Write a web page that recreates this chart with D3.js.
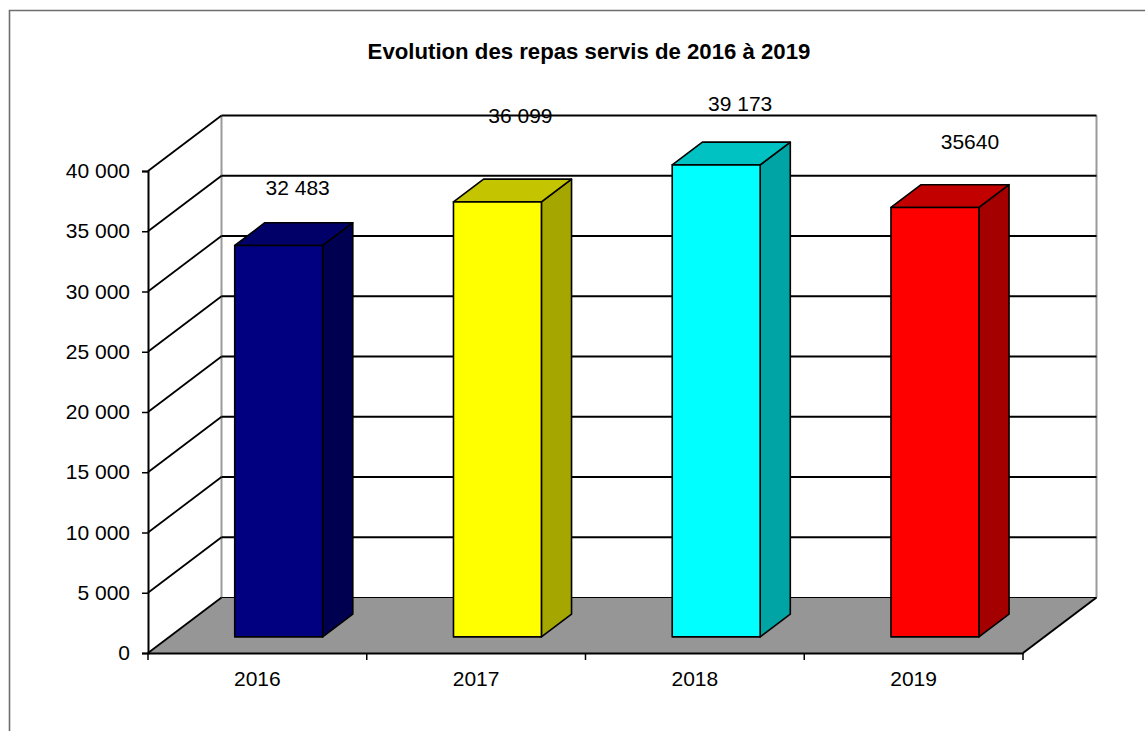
<!DOCTYPE html>
<html lang="fr">
<head>
<meta charset="utf-8">
<script src="https://cdn.jsdelivr.net/npm/d3@7"></script>
<style>
  html, body { margin: 0; padding: 0; background: #fff; }
  svg { display: block; font-family: "Liberation Sans", Arial, sans-serif; }
</style>
</head>
<body>
<svg id="chart" width="1145" height="731"></svg>
<script>
// Repas servis par année
const years = ["2016", "2017", "2018", "2019"];
const meals = [32483, 36099, 39173, 35640];
const mealLabels = ["32 483", "36 099", "39 173", "35640"];
const yTicks = [0, 5000, 10000, 15000, 20000, 25000, 30000, 35000, 40000];
const title = "Evolution des repas servis de 2016 à 2019";

// Colours per bar: front, top, side faces
const faceColors = [
  { front: "#000080", top: "#000068", side: "#000050" },
  { front: "#ffff00", top: "#c4c400", side: "#a6a600" },
  { front: "#00ffff", top: "#00c2c2", side: "#00a4a4" },
  { front: "#ff0000", top: "#c20000", side: "#a40000" }
];
// Hand-placed nudges for the value labels, relative to each bar's front top centre
const labelNudge = [[19, -58], [23, -86], [24, -61], [35, -66]];

const svg = d3.select("#chart");

// Plot box (front plane) and perspective depth vector
const left = 148, right = 1023, floorY = 653, topY = 171;
const depth = { dx: 73.5, dy: -55.5 };
const zFront = 0.29, zBack = 0.70;
const proj = (x, y, z) => [x + z * depth.dx, y + z * depth.dy];

const y = d3.scaleLinear().domain([0, 40000]).range([floorY, topY]);
const x = d3.scaleBand().domain(years).range([left, right])
  .paddingInner(0.598).paddingOuter(0.299);

const fr = d3.formatLocale({ decimal: ",", thousands: " ", grouping: [3], currency: ["", " €"] });
const fmt = fr.format(",d");

// Outer frame
svg.append("path")
  .attr("d", "M9.5,731 L9.5,10.5 L1145,10.5")
  .attr("fill", "none").attr("stroke", "#6e6e6e").attr("stroke-width", 1.6);

// Floor
const floorPts = [[left, floorY], [right, floorY], proj(right, floorY, 1), proj(left, floorY, 1)];
svg.append("polygon")
  .attr("points", floorPts.map(p => p.join(",")).join(" "))
  .attr("fill", "#969696");

// Back wall side edges
const walls = svg.append("g");
[left, right].forEach(xx => {
  const a = proj(xx, y(0), 1), b = proj(xx, y(40000), 1);
  walls.append("line")
    .attr("x1", a[0]).attr("y1", a[1]).attr("x2", b[0]).attr("y2", b[1])
    .attr("stroke", "#9a9a9a").attr("stroke-width", 2);
});

// Gridlines on the back wall and the left wall
const grid = svg.append("g").attr("stroke", "#000").attr("stroke-width", 1.8).attr("fill", "none");
yTicks.forEach(v => {
  const f = [left, y(v)];
  const bl = proj(left, y(v), 1);
  const br = proj(right, y(v), 1);
  grid.append("line").attr("x1", f[0]).attr("y1", f[1]).attr("x2", bl[0]).attr("y2", bl[1]);
  grid.append("line").attr("x1", bl[0]).attr("y1", bl[1]).attr("x2", br[0]).attr("y2", br[1])
    .attr("stroke-width", v === 0 ? 1.2 : 1.8);
});

// Right edge of the floor
const fr1 = proj(right, floorY, 1);
svg.append("line")
  .attr("x1", right).attr("y1", floorY).attr("x2", fr1[0]).attr("y2", fr1[1])
  .attr("stroke", "#000").attr("stroke-width", 2);

// Value axis
const yAxis = d3.axisLeft(y).tickValues(yTicks).tickFormat(fmt).tickSize(6).tickPadding(12);
const gy = svg.append("g").attr("transform", `translate(${left},0)`).call(yAxis);
gy.select(".domain").attr("stroke", "#000").attr("stroke-width", 2);
gy.selectAll(".tick line").attr("stroke", "#000").attr("stroke-width", 1.5);
gy.selectAll(".tick text").attr("font-size", 21).attr("fill", "#000")
  .attr("font-family", "Liberation Sans, Arial, sans-serif");

// Category axis: labels at band centres, tick marks at band boundaries
const xAxis = d3.axisBottom(x).tickSize(0).tickPadding(18);
const gx = svg.append("g").attr("transform", `translate(0,${floorY})`).call(xAxis);
gx.select(".domain").attr("stroke", "#000").attr("stroke-width", 2.2);
gx.selectAll(".tick text").attr("font-size", 21).attr("fill", "#000")
  .attr("font-family", "Liberation Sans, Arial, sans-serif");
const boundaries = years.map(c => x(c) - x.step() * x.paddingInner() / 2).concat([right]);
boundaries[0] = left;
gx.selectAll(".bound").data(boundaries).join("line")
  .attr("class", "bound")
  .attr("x1", d => d).attr("x2", d => d).attr("y1", 0).attr("y2", 7)
  .attr("stroke", "#000").attr("stroke-width", 1.5);

// Bars drawn as boxes: front, top and right faces
const bars = svg.append("g");
years.forEach((yr, i) => {
  const v = meals[i];
  const x0 = x(yr), x1 = x(yr) + x.bandwidth();
  const fBL = proj(x0, y(0), zFront), fBR = proj(x1, y(0), zFront);
  const fTL = proj(x0, y(v), zFront), fTR = proj(x1, y(v), zFront);
  const bTL = proj(x0, y(v), zBack), bTR = proj(x1, y(v), zBack);
  const bBR = proj(x1, y(0), zBack);
  const g = bars.append("g").attr("stroke", "#000").attr("stroke-width", 1.6).attr("stroke-linejoin", "round");
  const poly = pts => pts.map(p => p.join(",")).join(" ");
  g.append("polygon").attr("points", poly([fTR, bTR, bBR, fBR])).attr("fill", faceColors[i].side);
  g.append("polygon").attr("points", poly([fTL, fTR, bTR, bTL])).attr("fill", faceColors[i].top);
  g.append("polygon").attr("points", poly([fBL, fBR, fTR, fTL])).attr("fill", faceColors[i].front);

  const cx = (fTL[0] + fTR[0]) / 2;
  svg.append("text")
    .attr("x", cx + labelNudge[i][0])
    .attr("y", fTL[1] + labelNudge[i][1])
    .attr("text-anchor", "middle")
    .attr("dominant-baseline", "central")
    .attr("font-size", 21)
    .attr("fill", "#000")
    .text(mealLabels[i]);
});

// Title
svg.append("text")
  .attr("x", 589).attr("y", 51)
  .attr("text-anchor", "middle")
  .attr("dominant-baseline", "central")
  .attr("font-size", 22.2)
  .attr("font-weight", "bold")
  .attr("fill", "#000")
  .text(title);
</script>
</body>
</html>
